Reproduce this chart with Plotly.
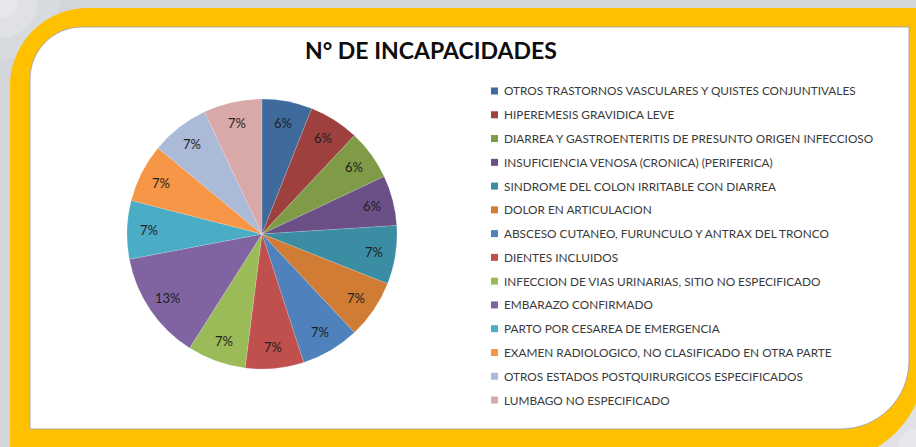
import math
import plotly.graph_objects as go

W, H = 916, 447

# ---- data -------------------------------------------------------------
causas = [
    "OTROS TRASTORNOS VASCULARES Y QUISTES CONJUNTIVALES",
    "HIPEREMESIS GRAVIDICA LEVE",
    "DIARREA Y GASTROENTERITIS DE PRESUNTO ORIGEN INFECCIOSO",
    "INSUFICIENCIA VENOSA (CRONICA) (PERIFERICA)",
    "SINDROME DEL COLON IRRITABLE CON DIARREA",
    "DOLOR EN ARTICULACION",
    "ABSCESO CUTANEO, FURUNCULO Y ANTRAX DEL TRONCO",
    "DIENTES INCLUIDOS",
    "INFECCION DE VIAS URINARIAS, SITIO NO ESPECIFICADO",
    "EMBARAZO CONFIRMADO",
    "PARTO POR CESAREA DE EMERGENCIA",
    "EXAMEN RADIOLOGICO, NO CLASIFICADO EN OTRA PARTE",
    "OTROS ESTADOS POSTQUIRURGICOS ESPECIFICADOS",
    "LUMBAGO NO ESPECIFICADO",
]
porcentajes = [6, 6, 6, 6, 7, 7, 7, 7, 7, 13, 7, 7, 7, 7]

colores = [
    "#3F6A9C", "#9E413E", "#809B48", "#6A5087", "#3A8DA3", "#D07C34",
    "#4F81BD", "#C0504D", "#9BBB59", "#8064A2", "#4BACC6", "#F79646",
    "#AABAD7", "#D9A9A9",
]

titulo = "N° DE INCAPACIDADES"
FONT = "Lato"


def P(x, y):
    """Pixel position -> paper coordinates string."""
    return f"{x / W:.5f},{1 - y / H:.5f}"


def rounded_rect(x0, y0, x1, y1, rtl, rtr, rbr, rbl):
    k = 0.5523
    return (
        f"M{P(x0 + rtl, y0)} L{P(x1 - rtr, y0)} "
        f"C{P(x1 - rtr + k * rtr, y0)} {P(x1, y0 + rtr - k * rtr)} {P(x1, y0 + rtr)} "
        f"L{P(x1, y1 - rbr)} "
        f"C{P(x1, y1 - rbr + k * rbr)} {P(x1 - rbr + k * rbr, y1)} {P(x1 - rbr, y1)} "
        f"L{P(x0 + rbl, y1)} "
        f"C{P(x0 + rbl - k * rbl, y1)} {P(x0, y1 - rbl + k * rbl)} {P(x0, y1 - rbl)} "
        f"L{P(x0, y0 + rtl)} "
        f"C{P(x0, y0 + rtl - k * rtl)} {P(x0 + rtl - k * rtl, y0)} {P(x0 + rtl, y0)} Z"
    )


def circle(cx, cy, r):
    return rounded_rect(cx - r, cy - r, cx + r, cy + r, r, r, r, r)


fig = go.Figure()

# pie (clockwise from 12 o'clock)
cx, cy, r = 262, 234, 135
fig.add_trace(go.Pie(
    labels=causas,
    values=porcentajes,
    sort=False,
    direction="clockwise",
    rotation=0,
    marker=dict(colors=colores, line=dict(color="rgba(255,255,255,0.3)", width=0.5)),
    textinfo="none",
    domain=dict(x=[(cx - r) / W, (cx + r) / W], y=[1 - (cy + r) / H, 1 - (cy - r) / H]),
    showlegend=False,
    hoverinfo="label+percent",
))

annotations = []

# percentage labels near the rim of each slice
total = sum(porcentajes)
acum = 0
for v in porcentajes:
    mid = (acum + v / 2) / total * 2 * math.pi
    acum += v
    lx = cx + 0.84 * r * math.sin(mid)
    ly = cy - 0.84 * r * math.cos(mid)
    annotations.append(dict(text=f"{round(v / total * 100)}%", xref="paper", yref="paper",
                            x=lx / W, y=1 - ly / H, xanchor="center", yanchor="middle",
                            showarrow=False,
                            font=dict(family=FONT, size=13, color="#1E1E1E")))

shapes = []
# soft light patches on the grey backdrop
for rr, op in [(60, 0.14), (38, 0.18), (18, 0.25)]:
    for (px, py) in [(0, 0), (W, H)]:
        shapes.append(dict(type="path", xref="paper", yref="paper", layer="below",
                           path=circle(px, py, rr), fillcolor=f"rgba(255,255,255,{op})",
                           line=dict(width=0)))
# yellow frame
shapes.append(dict(type="path", xref="paper", yref="paper", layer="below",
                   path=rounded_rect(10, 8, 925, 462, 78, 0, 100, 0),
                   fillcolor="#FFC000", line=dict(width=0)))
# white panel
shapes.append(dict(type="path", xref="paper", yref="paper", layer="below",
                   path=rounded_rect(30, 27, 909, 429, 52, 0, 68, 0),
                   fillcolor="#FFFFFF", line=dict(color="#A8A8A8", width=1)))

# legend rows
y_first, step = 91, 23.77
for i, (txt, col) in enumerate(zip(causas, colores)):
    yy = y_first + i * step
    shapes.append(dict(type="rect", xref="paper", yref="paper", layer="above",
                       x0=491 / W, x1=498 / W, y0=1 - (yy + 3.5) / H, y1=1 - (yy - 3.5) / H,
                       fillcolor=col, line=dict(width=0)))
    annotations.append(dict(text=txt, xref="paper", yref="paper",
                            x=502 / W, y=1 - yy / H, xanchor="left", yanchor="middle",
                            showarrow=False,
                            font=dict(family=FONT, size=11.8, color="#3A3A3A")))

annotations.append(dict(text=f"<b>{titulo}</b>", xref="paper", yref="paper",
                        x=431 / W, y=1 - 50 / H, xanchor="center", yanchor="middle",
                        showarrow=False, font=dict(family=FONT, size=23, color="#0D0D0D")))

fig.update_layout(
    width=W, height=H,
    margin=dict(l=0, r=0, t=0, b=0),
    paper_bgcolor="#D2D5D9",
    plot_bgcolor="rgba(0,0,0,0)",
    shapes=shapes,
    annotations=annotations,
    showlegend=False,
)

fig.write_html("out.html")
